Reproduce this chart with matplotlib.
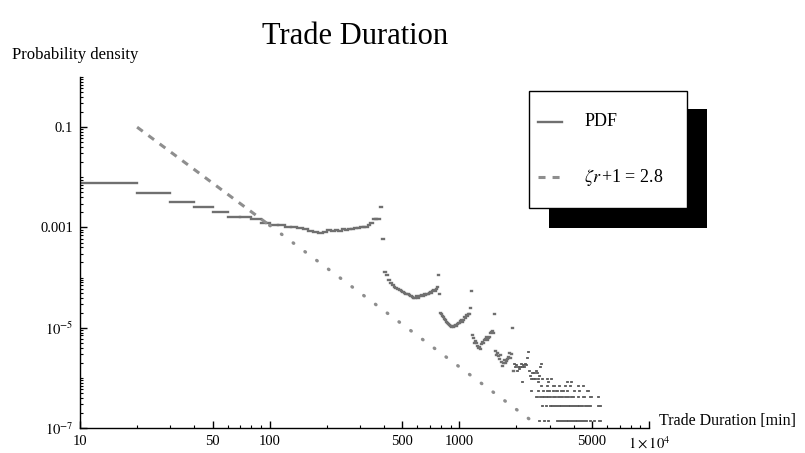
import numpy as np
import matplotlib
matplotlib.use('Agg')
from matplotlib import pyplot as plt
from matplotlib.patches import Rectangle
from matplotlib.lines import Line2D
from matplotlib.ticker import FixedLocator, LogLocator, NullFormatter

plt.rcParams['font.family'] = ['Liberation Serif', 'DejaVu Serif']
plt.rcParams['mathtext.fontset'] = 'stix'

BIN_WIDTH = 10          # minutes per histogram bin
FIRST_BIN = 10
COUNT_UNIT = 1.38e-7    # density of one single trade in a bin

# density of the 10 min bins starting at 10, 20, ..., 1930
early_density = [
    0.0076, 0.0048, 0.0032, 0.0025, 0.0020, 0.0016, 0.0016, 0.0015, 0.0012, 0.0011,     # 10-100
    0.0011, 0.00100, 0.00102, 0.00098, 0.00092, 0.00085, 0.00080, 0.00078, 0.00080, 0.00088,
    0.00085, 0.00090, 0.00086, 0.00092, 0.00090, 0.00092, 0.00095, 0.00098, 0.00096, 0.00100,
    0.00104, 0.00102, 0.00110, 0.00120, 0.00145, 0.00145, 0.00145, 0.0026, 0.0006, 1.3e-4,  # 310-400
    1.1e-4, 9.0e-5, 7.8e-5, 7.2e-5, 6.6e-5, 6.2e-5, 5.9e-5, 5.6e-5, 5.3e-5, 5.1e-5,
    4.9e-5, 4.8e-5, 4.6e-5, 4.5e-5, 4.3e-5, 4.1e-5, 3.9e-5, 4.0e-5, 4.2e-5, 4.0e-5,
    4.3e-5, 4.2e-5, 4.4e-5, 4.3e-5, 4.6e-5, 4.4e-5, 4.8e-5, 4.6e-5, 5.0e-5, 5.2e-5,
    4.9e-5, 5.4e-5, 5.7e-5, 5.5e-5, 6.0e-5, 6.4e-5, 1.1e-4, 4.6e-5, 2.0e-5, 1.9e-5,     # 710-800
    1.75e-5, 1.6e-5, 1.5e-5, 1.4e-5, 1.3e-5, 1.25e-5, 1.2e-5, 1.15e-5, 1.1e-5, 1.05e-5,
    1.0e-5, 1.1e-5, 1.05e-5, 1.1e-5, 1.15e-5, 1.1e-5, 1.2e-5, 1.25e-5, 1.3e-5, 1.25e-5,
    1.35e-5, 1.4e-5, 1.3e-5, 1.5e-5, 1.45e-5, 1.6e-5, 1.55e-5, 1.7e-5, 1.8e-5, 1.7e-5,
    1.9e-5, 2.1e-5, 1.9e-5, 2.5e-5, 5.5e-5, 1.4e-5, 7.0e-6, 6.2e-6, 5.8e-6, 5.0e-6,     # 1110-1200
    5.5e-6, 4.6e-6, 4.9e-6, 4.3e-6, 4.7e-6, 3.9e-6, 4.2e-6, 4.5e-6, 3.8e-6, 4.8e-6,
    4.4e-6, 5.2e-6, 4.6e-6, 5.0e-6, 5.6e-6, 4.8e-6, 5.9e-6, 5.3e-6, 6.4e-6, 5.8e-6,
    6.8e-6, 6.1e-6, 7.2e-6, 6.6e-6, 7.8e-6, 7.0e-6, 8.3e-6, 7.4e-6, 8.6e-6, 1.2e-5,
    7.8e-6, 9.0e-6, 1.9e-5, 8.0e-6, 3.4e-6, 3.0e-6, 2.8e-6, 3.2e-6, 2.5e-6, 2.7e-6,     # 1510-1600
    2.2e-6, 2.4e-6, 2.0e-6, 2.8e-6, 1.8e-6, 2.1e-6, 2.5e-6, 1.7e-6, 2.2e-6, 2.0e-6,
    2.4e-6, 1.8e-6, 2.3e-6, 2.7e-6, 2.0e-6, 2.5e-6, 2.2e-6, 2.8e-6, 2.4e-6, 3.0e-6,
    2.6e-6, 2.1e-6, 3.1e-6, 2.8e-6, 3.4e-6, 2.5e-6, 3.6e-6, 3.0e-6, 5.5e-6, 1.0e-5,
    2.8e-6, 3.8e-6, 1.4e-6,
]

# sparse tail: visible dashes (start, end) with their trade count
tail_start = [
    1940, 1960, 1980, 2000, 2020, 2040, 2060, 2080, 2100, 2120,
    2140, 2160, 2180, 2200, 2220, 2240, 2260, 2280, 2300, 2320,
    2340, 2360, 2380, 2400, 2420, 2440, 2460, 2480, 2500, 2520,
    2540, 2560, 2580, 2600, 2620, 2640, 2660, 2680, 2700, 2720,
    2740, 2780, 2820, 2860, 2900, 2960, 3000, 3060, 3100,
    2150, 2480, 2600, 2790, 2950, 3150, 3300, 3500, 3700, 3900, 4050, 4250,
    2500, 2700, 2900, 3100, 3350, 3600, 3850, 4200, 4500, 4800,
    2400, 2600, 2750, 2900, 3100, 3250, 3450, 3700, 4000, 4300, 4700,
    2540, 2650, 2800, 2950, 3100, 3300, 3600, 3900, 4200, 4500, 4900, 5400,
    2730, 2850, 3000, 3080, 3450, 3850, 4300, 4600, 5100, 5400,
    2640, 2800, 2950, 3100, 3270, 3750, 4150, 4900, 5150, 5450,
]
tail_end = [
    1960, 1980, 2000, 2020, 2040, 2060, 2080, 2100, 2120, 2140,
    2160, 2180, 2200, 2220, 2240, 2260, 2280, 2300, 2320, 2340,
    2360, 2380, 2400, 2420, 2440, 2460, 2480, 2500, 2520, 2540,
    2560, 2580, 2600, 2620, 2640, 2660, 2680, 2700, 2720, 2730,
    2760, 2800, 2840, 2880, 2920, 2980, 3020, 3080, 3110,
    2160, 2490, 2620, 2800, 2970, 3160, 3320, 3520, 3720, 3920, 4070, 4280,
    2520, 2730, 2950, 3200, 3400, 3650, 3900, 4250, 4530, 4830,
    2420, 2640, 2800, 3000, 3150, 3300, 3550, 3750, 4050, 4350, 4800,
    2600, 2750, 2900, 3050, 3250, 3500, 3800, 4000, 4300, 4600, 5000, 5450,
    2760, 2900, 3030, 3400, 3800, 4200, 4500, 4950, 5150, 5580,
    2660, 2820, 2980, 3130, 3700, 4100, 4710, 4950, 5200, 5580,
]
tail_count = [
    14, 12, 11, 13, 10, 12, 11, 13, 12, 14,
    12, 13, 15, 12, 14, 16, 13, 18, 24, 40,
    10, 8, 9, 7, 9, 8, 7, 9, 8, 7,
    10, 8, 9, 7, 11, 8, 12, 9, 14, 42,
    7, 6, 8, 6, 7, 6, 8, 7, 26,
    6, 6, 6, 6, 6, 6, 6, 6, 6, 6, 6, 6,
    5, 5, 5, 5, 5, 5, 5, 5, 5, 5,
    4, 4, 4, 4, 4, 4, 4, 4, 4, 4, 4,
    3, 3, 3, 3, 3, 3, 3, 3, 3, 3, 3, 3,
    2, 2, 2, 2, 2, 2, 2, 2, 2, 2,
    1, 1, 1, 1, 1, 1, 1, 1, 1, 1,
]

# power law guide, zeta_r + 1 = 2.8
fit_x = [20, 100, 2400]
fit_y = [0.1, 1.1e-3, 1.4e-7]

x_ticks = [10, 50, 100, 500, 1000, 5000, 10000]
x_tick_labels = ['10', '50', '100', '500', '1000', '5000', r'$1\times10^{4}$']
x_minor = [20, 30, 40, 60, 70, 80, 90, 200, 300, 400, 600, 700, 800, 900,
           2000, 3000, 4000, 6000, 7000, 8000, 9000]
y_ticks = [1e-1, 1e-3, 1e-5, 1e-7]
y_tick_labels = ['0.1', '0.001', r'$10^{-5}$', r'$10^{-7}$']

PDF_COLOR = '#707070'
FIT_COLOR = '#8e8e8e'
W, H = 805, 453


def fx(px):
    return px / W


def fy(py):
    return 1 - py / H


fig = plt.figure(figsize=(W / 100, H / 100), dpi=100)
ax = fig.add_axes([fx(80), fy(428), fx(649) - fx(80), fy(77) - fy(428)])
ax.set_xscale('log')
ax.set_yscale('log')
ax.set_xlim(10, 1e4)
ax.set_ylim(1e-7, 1)

left = np.arange(FIRST_BIN, FIRST_BIN + BIN_WIDTH * len(early_density), BIN_WIDTH)
early = ax.hlines(early_density, left, left + BIN_WIDTH, colors=PDF_COLOR, lw=1.7)
early.set_capstyle('projecting')

tail = ax.hlines(np.array(tail_count) * COUNT_UNIT, tail_start, tail_end,
                 colors='#555555', lw=1.3)
tail.set_capstyle('projecting')

ax.plot(fit_x[:2], fit_y[:2], color=FIT_COLOR, lw=2.2, dashes=(2.3, 2.3))
ax.plot(fit_x[1:], fit_y[1:], color=FIT_COLOR, lw=2.4, dashes=(0.2, 4.2),
        dash_capstyle='round')

for side in ['top', 'right']:
    ax.spines[side].set_visible(False)
for side in ['left', 'bottom']:
    ax.spines[side].set_linewidth(1.0)

ax.xaxis.set_major_locator(FixedLocator(x_ticks))
ax.xaxis.set_minor_locator(FixedLocator(x_minor))
ax.xaxis.set_minor_formatter(NullFormatter())
ax.set_xticklabels(x_tick_labels)
ax.yaxis.set_major_locator(FixedLocator(y_ticks))
ax.yaxis.set_minor_locator(LogLocator(base=10, subs=np.arange(1, 10), numticks=30))
ax.yaxis.set_minor_formatter(NullFormatter())
ax.set_yticklabels(y_tick_labels)
ax.tick_params(which='major', direction='in', length=5, width=1, labelsize=10.5, pad=5)
ax.tick_params(which='minor', direction='in', length=2.5, width=0.8)

fig.text(fx(355), fy(36), 'Trade Duration', fontsize=22, ha='center', va='center')
fig.text(fx(12), fy(55), 'Probability density', fontsize=12, ha='left', va='center')
fig.text(fx(659), fy(425), 'Trade Duration [min]', fontsize=11.5, ha='left', va='baseline')

# legend box with shadow
fig.add_artist(Rectangle((fx(549), fy(228)), fx(707) - fx(549), fy(109) - fy(228),
                         transform=fig.transFigure, facecolor='black', edgecolor='none'))
fig.add_artist(Rectangle((fx(529), fy(208)), fx(687) - fx(529), fy(91) - fy(208),
                         transform=fig.transFigure, facecolor='white', edgecolor='black', lw=1))
fig.add_artist(Line2D([fx(538), fx(562)], [fy(122), fy(122)], transform=fig.transFigure,
                      color=PDF_COLOR, lw=1.7))
fig.add_artist(Line2D([fx(538), fx(561)], [fy(177), fy(177)], transform=fig.transFigure,
                      color=FIT_COLOR, lw=2.2, dashes=(2.3, 2.3)))
fig.text(fx(585), fy(122), 'PDF', fontsize=13, ha='left', va='center')
fig.text(fx(584), fy(177), r'$\zeta r\,$+1 = 2.8', fontsize=13, ha='left', va='center')

fig.savefig('out.png', dpi=100, facecolor='white')
